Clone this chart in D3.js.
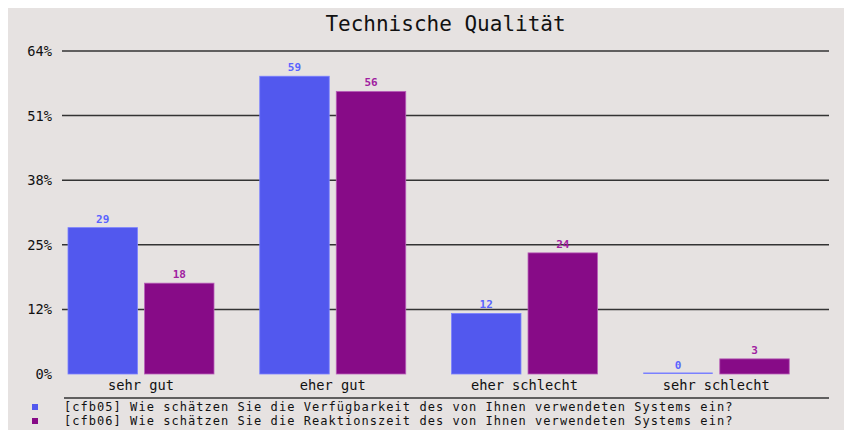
<!DOCTYPE html>
<html>
<head>
<meta charset="utf-8">
<script src="https://cdn.jsdelivr.net/npm/d3@7"></script>
<style>
  body { margin: 0; background: #fff; }
  text { font-family: 'DejaVu Sans Mono', 'Liberation Mono', monospace; }
</style>
</head>
<body>
<div id="chart"></div>
<script>
const categories = ['sehr gut', 'eher gut', 'eher schlecht', 'sehr schlecht']
const seriesNames = ['cfb05', 'cfb06']
const seriesLabels = [
  '[cfb05] Wie schätzen Sie die Verfügbarkeit des von Ihnen verwendeten Systems ein?',
  '[cfb06] Wie schätzen Sie die Reaktionszeit des von Ihnen verwendeten Systems ein?'
]
const cfb05 = [29, 59, 12, 0]
const cfb06 = [18, 56, 24, 3]
const yTicks = [0, 12.8, 25.6, 38.4, 51.2, 64]
const title = 'Technische Qualität'

const barColors = ['#5258ee', '#870b87']
const strokeColors = ['#7a80ff', '#b860b8']
const labelColors = ['#5a64ff', '#a020a0']

const width = 844
const height = 430
const plot = { left: 62, right: 829, top: 51, bottom: 374 }

const svg = d3.select('#chart')
  .append('svg')
  .attr('width', width)
  .attr('height', height)

svg.append('rect')
  .attr('x', 8)
  .attr('y', 8)
  .attr('width', width - 8)
  .attr('height', height - 8)
  .attr('fill', '#e6e2e1')

const x = d3.scaleBand()
  .domain(categories)
  .range([plot.left, plot.right])

const xInner = d3.scaleBand()
  .domain(seriesNames)
  .range([6, 152])
  .paddingInner(0.092)

const y = d3.scaleLinear()
  .domain([0, 64])
  .range([plot.bottom, plot.top])

// gridlines (none at 0)
svg.selectAll('.grid')
  .data(yTicks.filter(d => d > 0))
  .enter()
  .append('line')
  .attr('class', 'grid')
  .attr('x1', plot.left)
  .attr('x2', plot.right)
  .attr('y1', d => y(d))
  .attr('y2', d => y(d))
  .attr('stroke', '#333')
  .attr('stroke-width', 1.5)

svg.selectAll('.ytick')
  .data(yTicks)
  .enter()
  .append('text')
  .attr('class', 'ytick')
  .attr('x', 52)
  .attr('y', d => y(d) + 5)
  .attr('text-anchor', 'end')
  .attr('font-size', '13.7px')
  .attr('fill', '#111')
  .text(d => Math.floor(d) + '%')

svg.append('text')
  .attr('x', (plot.left + plot.right) / 2)
  .attr('y', 31)
  .attr('text-anchor', 'middle')
  .attr('font-size', '21px')
  .attr('fill', '#111')
  .text(title)

const rows = categories.map((c, i) => ({ cat: c, values: [cfb05[i], cfb06[i]] }))

const groups = svg.selectAll('.group')
  .data(rows)
  .enter()
  .append('g')
  .attr('class', 'group')
  .attr('transform', d => 'translate(' + x(d.cat) + ',0)')

groups.selectAll('rect')
  .data(d => d.values.map((v, i) => ({ v, i })))
  .enter()
  .append('rect')
  .attr('x', d => xInner(seriesNames[d.i]))
  .attr('y', d => d.v > 0 ? y(d.v) : y(0) - 1.5)
  .attr('width', xInner.bandwidth())
  .attr('height', d => d.v > 0 ? y(0) - y(d.v) : 1.5)
  .attr('fill', d => d.v > 0 ? barColors[d.i] : strokeColors[d.i])
  .attr('stroke', d => d.v > 0 ? strokeColors[d.i] : 'none')
  .attr('stroke-width', 0.8)

groups.selectAll('.val')
  .data(d => d.values.map((v, i) => ({ v, i })))
  .enter()
  .append('text')
  .attr('class', 'val')
  .attr('x', d => xInner(seriesNames[d.i]) + xInner.bandwidth() / 2)
  .attr('y', d => y(d.v) - 5)
  .attr('text-anchor', 'middle')
  .attr('font-size', '11px')
  .attr('font-weight', 'bold')
  .attr('fill', d => labelColors[d.i])
  .text(d => d.v)

groups.append('text')
  .attr('x', 79)
  .attr('y', 390)
  .attr('text-anchor', 'middle')
  .attr('font-size', '13.7px')
  .attr('fill', '#111')
  .text(d => d.cat)

// legend
svg.append('line')
  .attr('x1', 64)
  .attr('x2', plot.right)
  .attr('y1', 398)
  .attr('y2', 398)
  .attr('stroke', '#333')
  .attr('stroke-width', 1.5)

const legend = svg.selectAll('.legend')
  .data(seriesLabels)
  .enter()
  .append('g')
  .attr('class', 'legend')
  .attr('transform', (d, i) => 'translate(0,' + (411 + i * 14) + ')')

legend.append('rect')
  .attr('x', 32)
  .attr('y', -7)
  .attr('width', 6)
  .attr('height', 6)
  .attr('fill', (d, i) => barColors[i])

// smaller glyphs with letter spacing so the two tight lines don't collide
legend.append('text')
  .attr('x', 64)
  .attr('y', 0)
  .attr('font-size', '12px')
  .attr('letter-spacing', '1.04px')
  .attr('fill', '#111')
  .text(d => d)
</script>
</body>
</html>
